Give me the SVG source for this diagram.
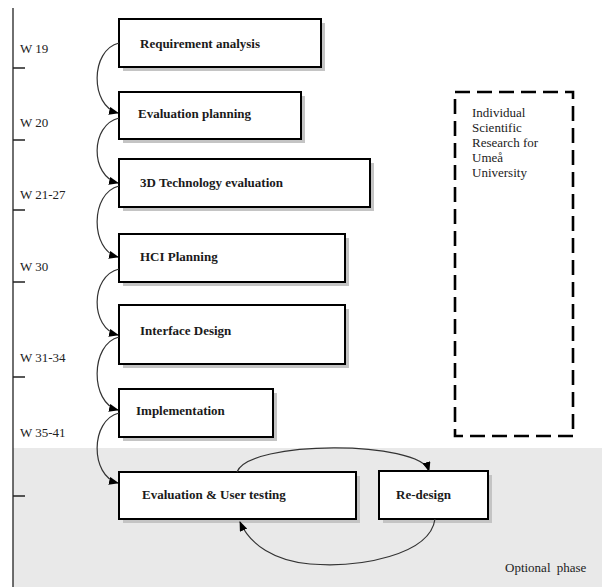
<svg xmlns="http://www.w3.org/2000/svg" width="602" height="587" viewBox="0 0 602 587">
<defs>
<style>
.box{fill:#fff;stroke:#000;stroke-width:2}
.sh{fill:#c4c4c4}
.lbl{font-family:"Liberation Serif","Times New Roman",serif;font-size:13px;font-weight:bold;fill:#1a1a1a}
.wk{font-family:"Liberation Serif","Times New Roman",serif;font-size:13px;fill:#222}
.conn{fill:none;stroke:#333;stroke-width:1.2}
.axis{stroke:#222;stroke-width:1.3;fill:none}
</style>
<marker id="ah" markerWidth="10" markerHeight="8" refX="9" refY="4" orient="auto" markerUnits="userSpaceOnUse">
<path d="M0,0 L10,4 L0,8 Z" fill="#000"/>
</marker>
</defs>
<rect x="0" y="0" width="602" height="587" fill="#fff"/>
<rect id="optional-area" x="13" y="448" width="589" height="139" fill="#e9e9e9"/>
<g id="timeline">
<path class="axis" d="M13 8 V587"/>
<path class="axis" d="M13 68 H25 M13 140 H25 M13 210 H25 M13 282 H25 M13 377 H25 M13 496 H25"/>
<text class="wk" x="20" y="53">W 19</text>
<text class="wk" x="20" y="127">W 20</text>
<text class="wk" x="20" y="199">W 21-27</text>
<text class="wk" x="20" y="271">W 30</text>
<text class="wk" x="20" y="362">W 31-34</text>
<text class="wk" x="20" y="437">W 35-41</text>
</g>
<g id="n1"><rect class="sh" x="123" y="23" width="202" height="48"/><rect class="box" x="119" y="19" width="202" height="48"/><text class="lbl" x="140" y="48">Requirement analysis</text></g>
<g id="n2"><rect class="sh" x="123" y="96" width="182" height="47"/><rect class="box" x="119" y="92" width="182" height="47"/><text class="lbl" x="138" y="118">Evaluation planning</text></g>
<g id="n3"><rect class="sh" x="123" y="163" width="251" height="48"/><rect class="box" x="119" y="159" width="251" height="48"/><text class="lbl" x="140" y="187">3D Technology evaluation</text></g>
<g id="n4"><rect class="sh" x="123" y="238" width="226" height="48"/><rect class="box" x="119" y="234" width="226" height="48"/><text class="lbl" x="140" y="261">HCI Planning</text></g>
<g id="n5"><rect class="sh" x="123" y="309" width="226" height="59"/><rect class="box" x="119" y="305" width="226" height="59"/><text class="lbl" x="140" y="335">Interface Design</text></g>
<g id="n6"><rect class="sh" x="123" y="393" width="154" height="48"/><rect class="box" x="119" y="389" width="154" height="48"/><text class="lbl" x="136" y="415">Implementation</text></g>
<g id="n7"><rect class="sh" x="123" y="476" width="237" height="47"/><rect class="box" x="119" y="472" width="237" height="47"/><text class="lbl" x="142" y="499">Evaluation &amp; User testing</text></g>
<g id="n8"><rect class="sh" x="383" y="475" width="109" height="48"/><rect class="box" x="379" y="471" width="109" height="48"/><text class="lbl" x="396" y="499">Re-design</text></g>
<g id="research">
<rect x="455" y="92" width="118" height="344" fill="none" stroke="#000" stroke-width="2.6" stroke-dasharray="15 7"/>
<text class="wk" x="472" y="117">Individual</text>
<text class="wk" x="472" y="132">Scientific</text>
<text class="wk" x="472" y="147">Research for</text>
<text class="wk" x="472" y="162">Umeå</text>
<text class="wk" x="472" y="177">University</text>
</g>
<text id="optional-label" class="wk" x="505" y="572" word-spacing="3">Optional phase</text>
<g id="connectors">
<path class="conn" marker-end="url(#ah)" d="M119 43 C90 50 90 106 118 113"/>
<path class="conn" marker-end="url(#ah)" d="M119 118 C90 125 90 176 118 183"/>
<path class="conn" marker-end="url(#ah)" d="M119 186 C90 193 90 250 118 257"/>
<path class="conn" marker-end="url(#ah)" d="M119 269 C90 276 90 328 118 335"/>
<path class="conn" marker-end="url(#ah)" d="M119 337 C90 344 90 403 118 410"/>
<path class="conn" marker-end="url(#ah)" d="M119 413 C90 420 90 476 118 483"/>
<path class="conn" marker-end="url(#ah)" d="M237 472 C248 440 420 440 429 471"/>
<path class="conn" marker-end="url(#ah)" d="M435 519 C430 555 360 568 310 564 C275 561 250 545 240 522"/>
</g>
</svg>
